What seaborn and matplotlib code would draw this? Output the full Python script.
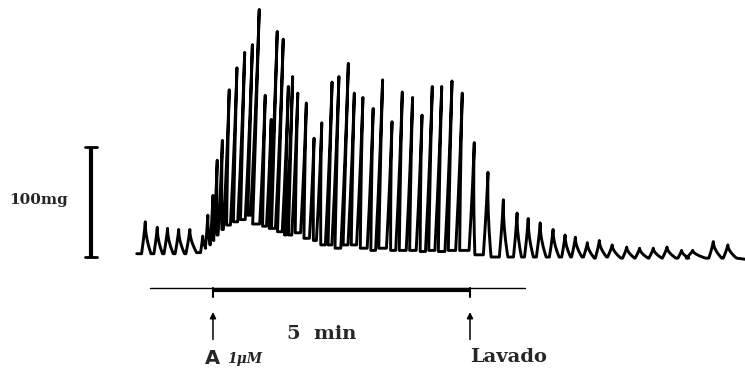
import numpy as np
import pandas as pd
import matplotlib
matplotlib.use("Agg")
import matplotlib.pyplot as plt
import seaborn as sns

# ---- data read from the recording (time in s, tension in mg) ----
peak_time_s = [-79, -65, -53, -40, -27, -12, -6, 0, 5, 11, 19, 28, 37, 46, 54,
               61, 68, 75, 82, 88, 93, 99, 109, 118, 127, 139, 147, 158, 165,
               175, 187, 198, 209, 221, 233, 244, 256, 267, 279, 291, 305, 321,
               339, 355, 368, 382, 397, 411, 423, 437, 451, 466, 483, 498, 514,
               530, 547, 560, 584, 601]
peak_mg = [32, 27, 26, 25, 25, 19, 38, 56, 88, 106, 152, 172, 186, 193, 225,
           147, 125, 205, 198, 155, 164, 149, 140, 108, 122, 159, 164, 176, 149,
           145, 135, 161, 123, 150, 145, 129, 155, 155, 160, 149, 104, 77,
           52, 40, 35, 31, 25, 20, 18, 13, 15, 11, 9, 8, 8,
           9, 6, 6, 14, 11]
trough_mg = [3, 3, 3, 3, 4, 8, 11, 15, 20, 25, 29, 32, 34, 38, 30,
             28, 26, 26, 23, 20, 20, 22, 17, 15, 11, 11, 8, 11, 11,
             8, 6, 8, 6, 6, 6, 5, 6, 5, 6, 6, 2, 0,
             0, 0, 0, 0, 0, 0, 0, -1, 0, -1, -1, -1, -1,
             -1, -1, -1, -1, -1]
trace_start = (-89, 3)
trace_end = (621, -2)

scale_mg = [0, 100]
drug_window_s = [0, 300]

# ---- build the pen trace (recorder pen draws slightly leaning strokes) ----
LEAN = 0.05   # horizontal drift of the pen per mg of travel, in s
xs = [trace_start[0]]
ys = [trace_start[1]]
prev = trace_start[1]
n = len(peak_time_s)
u = np.linspace(0, 1, 11)
for i in range(n):
    tp = peak_time_s[i]
    pk = peak_mg[i]
    nxt = trough_mg[i]
    s = (peak_time_s[i + 1] - tp) if i < n - 1 else (tp - peak_time_s[i - 1])
    h = pk - min(prev, nxt)
    wr = 0.33 * s * np.exp(-h / 50.0) + 0.3
    wf = 0.62 * s * np.exp(-h / 140.0) + 1.0
    lean = LEAN * h * (1 - u) * (1 - 0.25 * u)
    xr = tp - lean - wr * (1 - u) ** 1.2
    yr = prev + u * (pk - prev)
    xf = tp - lean + wf * (1 - u) ** 1.8
    yf = nxt + u * (pk - nxt)
    xs += list(xr) + list(xf[::-1][1:])
    ys += list(yr) + list(yf[::-1][1:])
    prev = nxt
xs.append(trace_end[0])
ys.append(trace_end[1])
df = pd.DataFrame({"t": xs, "mg": ys})

sns.set_theme(style="white")
plt.rcParams["font.family"] = ["DejaVu Serif", "DejaVu Sans"]

fig = plt.figure(figsize=(7.45, 3.71), dpi=100)
ax = fig.add_axes([0, 0, 1, 1])
sns.lineplot(data=df, x="t", y="mg", sort=False, estimator=None,
             color="black", lw=2.1, ax=ax)

# scale bar
xb = -142.4
ax.plot([xb, xb], scale_mg, color="black", lw=3.0, solid_capstyle="butt")
for yv in scale_mg:
    ax.plot([xb - 6.5, xb + 6.5], [yv, yv], color="black", lw=2.0)
ax.text(-204, 52, "100mg", ha="center", va="center", fontsize=11,
        fontweight="bold")

# time bar
ax.plot([-73.5, 364], [-28.2, -28.2], color="black", lw=1.0)
ax.plot(drug_window_s, [-30, -30], color="black", lw=3.0, solid_capstyle="butt")
for tv in drug_window_s:
    ax.plot([tv, tv], [-28, -36], color="black", lw=1.5)
    ax.annotate("", xy=(tv, -50), xytext=(tv, -75),
                arrowprops=dict(arrowstyle="-|>", color="black", lw=1.1,
                                mutation_scale=9, shrinkA=0, shrinkB=0))
ax.text(127, -70, "5  min", ha="center", va="center", fontsize=14,
        fontweight="bold")
ax.text(-9, -92, "A", ha="left", va="center", fontsize=14, fontweight="bold",
        family="DejaVu Sans")
ax.text(16, -93, "1\u03bcM", ha="left", va="center", fontsize=10,
        fontstyle="italic", fontweight="bold")
ax.text(345, -91, "Lavado", ha="center", va="center", fontsize=14,
        fontweight="bold")

ax.set_xlim(-248.6, 621.0)
ax.set_ylim(-103.6, 233.6)
ax.set_axis_off()
fig.savefig("out.png", dpi=100, facecolor="white")
